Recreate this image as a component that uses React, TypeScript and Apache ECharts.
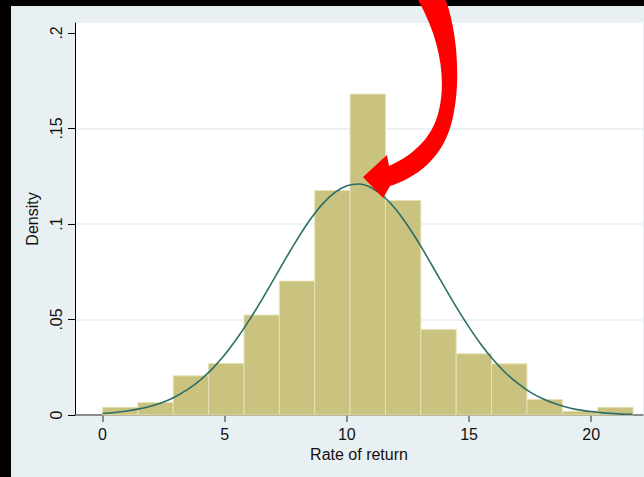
import React, { useEffect, useRef } from "react";
import * as echarts from "echarts";

// Histogram bins (Rate of return), density heights
const binStart = 0;
const binWidth = 1.4475;
const densities = [0.004, 0.0065, 0.0205, 0.027, 0.0523, 0.0701, 0.1175, 0.168, 0.1123, 0.0448, 0.032, 0.0268, 0.0081, 0.002, 0.004];

// Normal density overlay
const curveX = [0, 0.5, 1, 1.5, 2, 2.5, 3, 3.5, 4, 4.5, 5, 5.5, 6, 6.5, 7, 7.5, 8, 8.5, 9, 9.5, 10, 10.5, 11, 11.5, 12, 12.5, 13, 13.5, 14, 14.5, 15, 15.5, 16, 16.5, 17, 17.5, 18, 18.5, 19, 19.5, 20, 20.5, 21, 21.5, 21.7];
const curveY = [0.0008, 0.0013, 0.0021, 0.0032, 0.0047, 0.0068, 0.0097, 0.0135, 0.0183, 0.0243, 0.0315, 0.04, 0.0495, 0.0599, 0.0709, 0.082, 0.0926, 0.1023, 0.1104, 0.1164, 0.12, 0.1209, 0.119, 0.1145, 0.1077, 0.0989, 0.0889, 0.078, 0.0669, 0.0561, 0.046, 0.0368, 0.0288, 0.022, 0.0165, 0.012, 0.0086, 0.006, 0.0041, 0.0027, 0.0018, 0.0011, 0.0007, 0.0004, 0.0004];

const xTicks = [0, 5, 10, 15, 20];
const yTicks = [0, 0.05, 0.1, 0.15, 0.2];
const yTickLabels = ["0", ".05", ".1", ".15", ".2"];

const arrowPath =
  "M363 177 L387 155 L389 166 C412 156 433 138 439 110 C446 80 441 40 417 -2 L445 -2 C459 35 461 90 451 125 C441 160 415 178 390 186 L383 198 Z";

export default function App() {
  const ref = useRef<HTMLDivElement>(null);
  useEffect(() => {
    if (!ref.current) return;
    try {
      echarts.graphic.registerShape("redArrow", echarts.graphic.extendPath(arrowPath, {}) as any);
    } catch (e) {}
    const chart = echarts.init(ref.current, null, { renderer: "svg" });
    const bars = densities.map((d, i) => [binStart + i * binWidth, binStart + (i + 1) * binWidth, d]);
    const curve = curveX.map((x, i) => [x, curveY[i]]);
    const font = "'Liberation Sans', Arial, sans-serif";
    chart.setOption({
      animation: false,
      backgroundColor: "#e9f0f3",
      grid: { left: 75, right: 1, top: 23, bottom: 62, show: true, backgroundColor: "#ffffff", borderWidth: 0 },
      xAxis: {
        type: "value",
        min: -1.126,
        max: 22.12,
        name: "Rate of return",
        nameLocation: "middle",
        nameGap: 26,
        nameTextStyle: { fontFamily: font, fontSize: 16, color: "#111" },
        axisLine: { show: true, onZero: false, lineStyle: { color: "#6a6a6a", width: 1.5 } },
        axisTick: { show: true, length: 7, customValues: xTicks, lineStyle: { color: "#6a6a6a", width: 1.5 } },
        axisLabel: { customValues: xTicks, margin: 11, fontFamily: font, fontSize: 16, color: "#111" },
        splitLine: { show: false },
      },
      yAxis: {
        type: "value",
        min: 0,
        max: 0.2052,
        name: "Density",
        nameLocation: "middle",
        nameGap: 29,
        nameTextStyle: { fontFamily: font, fontSize: 16, color: "#111" },
        axisLine: { show: true, onZero: false, lineStyle: { color: "#000", width: 1 } },
        axisTick: { show: true, length: 7, customValues: yTicks, lineStyle: { color: "#000", width: 1 } },
        axisLabel: {
          customValues: yTicks,
          rotate: 90,
          margin: 11,
          fontFamily: font,
          fontSize: 16,
          color: "#111",
          formatter: (v: number) => {
            const i = yTicks.findIndex((t) => Math.abs(t - v) < 1e-6);
            return i >= 0 ? yTickLabels[i] : "";
          },
        },
        splitLine: {
          show: true,
          customValues: yTicks,
          lineStyle: { color: ["#e4edf0", "#e4edf0", "#e4edf0", "#e4edf0", "#ffffff"], width: 1.5 },
        },
      },
      series: [
        {
          type: "custom",
          data: bars,
          encode: { x: [0, 1], y: 2 },
          z: 2,
          renderItem: (params: any, api: any) => {
            const p0 = api.coord([api.value(0), api.value(2)]);
            const p1 = api.coord([api.value(1), 0]);
            return {
              type: "rect",
              shape: { x: p0[0], y: p0[1], width: p1[0] - p0[0], height: p1[1] - p0[1] },
              style: { fill: "#cac27f", stroke: "#e7e1b6", lineWidth: 1 },
            };
          },
        },
        {
          type: "line",
          data: curve,
          smooth: 0.3,
          showSymbol: false,
          z: 3,
          lineStyle: { color: "#2b6e69", width: 1.6 },
        },
      ],
      graphic: [
        { type: "rect", left: 0, top: 0, shape: { x: 0, y: 0, width: 644, height: 6 }, style: { fill: "#000" }, z: 50 },
        { type: "rect", left: 0, top: 0, shape: { x: 0, y: 0, width: 11, height: 477 }, style: { fill: "#000" }, z: 50 },
        { type: "redArrow", x: 0, y: 0, style: { fill: "#ff0000" }, z: 100 },
      ],
    });
    return () => chart.dispose();
  }, []);
  return <div ref={ref} style={{ position: "absolute", left: 0, top: 0, width: 644, height: 477 }} />;
}
